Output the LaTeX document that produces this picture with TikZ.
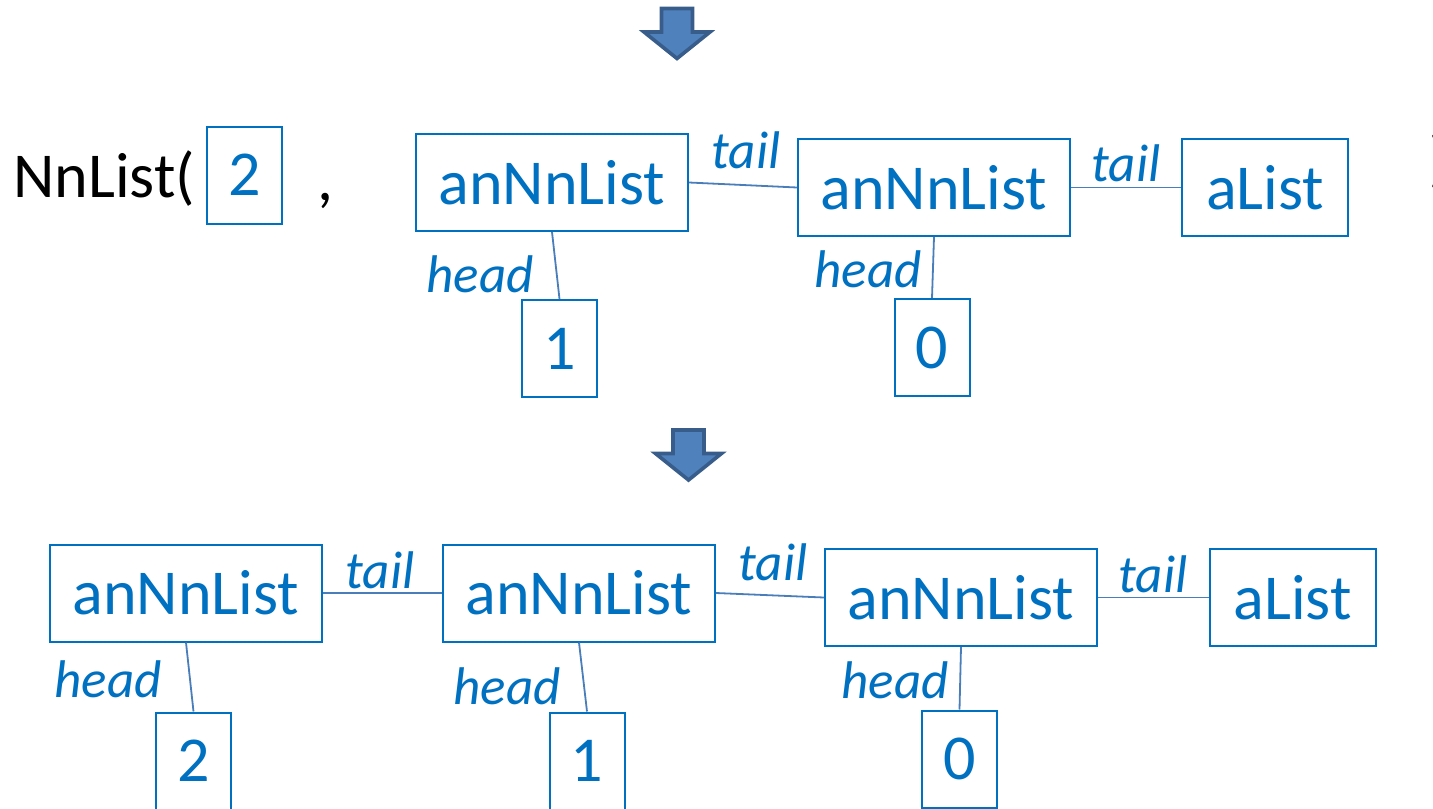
\documentclass[tikz,border=0pt]{standalone}
\usepackage{fontspec}
\setmainfont{Carlito}

\definecolor{listblue}{HTML}{0070C0}
\definecolor{linkblue}{HTML}{4A7EBB}
\definecolor{arrowfill}{HTML}{4F81BD}
\definecolor{arrowedge}{HTML}{385D8A}

\tikzset{
  cell/.style={draw=listblue, line width=1pt, text=listblue, inner sep=0pt,
    font=\fontsize{32}{38}\selectfont, minimum height=48.5pt},
  obj/.style={cell, minimum width=136pt},
  nil/.style={cell, minimum width=83pt},
  num/.style={cell, minimum width=37.5pt},
  field/.style={text=listblue, inner sep=0pt, font=\fontsize{26.5}{31}\selectfont\itshape},
  plain/.style={inner sep=0pt, font=\fontsize{32}{38}\selectfont},
  link/.style={linkblue, line width=0.9pt},
  down/.style={fill=arrowfill, draw=arrowedge, line width=1.8pt, line join=miter}
}

\begin{document}
\begin{tikzpicture}[x=0.5pt, y=-0.5pt]
        \useasboundingbox (0,0) rectangle (1433,808);
        % Arrows
        \foreach \x/\y in {677/58.5, 688.5/480}
            \draw[down] (\x-15.5,\y-50) -- ++(31,0) -- ++(0,23.5) -- ++(17.5,0)
                -- (\x,\y) -- (\x-33,\y-26.5) -- ++(17.5,0) -- cycle;
        % Top row: the call
        \node[plain, anchor=base west] (call) at (13,197) {NnList(};
        \node[num] (x) at (244.5,175) {2};
        \node[plain, anchor=base west] (comma) at (317,200) {,};
        \node[plain, anchor=base west] (close) at (1429,180) {)};
        \node[obj] (p1) at (552,182.5) {anNnList};
        \node[obj] (p2) at (934,187.5) {anNnList};
        \node[nil] (pe) at (1265,187.5) {aList};
        \node[num] (v1) at (559.5,348.5) {1};
        \node[num] (v0) at (932,347.5) {0};
        \draw[link] (p1.east) -- (p2.west);
        \draw[link] (p2.east) -- (pe.west);
        \draw[link] (p1.south) -- (v1.north);
        \draw[link] (p2.south) -- (v0.north);
        \node[field] (pt1) at (746,150) {tail};
        \node[field] (pt2) at (1126,163) {tail};
        \node[field] (ph1) at (480,274) {head};
        \node[field] (ph2) at (868,269) {head};
        % Bottom row: the result
        \node[obj] (q1) at (186,593) {anNnList};
        \node[obj] (q2) at (579,593) {anNnList};
        \node[obj] (q3) at (961,597.5) {anNnList};
        \node[nil] (qe) at (1292.5,597.5) {aList};
        \node[num] (w2) at (193.5,761) {2};
        \node[num] (w1) at (587,761) {1};
        \node[num] (w0) at (959.5,759) {0};
        \draw[link] (q1.east) -- (q2.west);
        \draw[link] (q2.east) -- (q3.west);
        \draw[link] (q3.east) -- (qe.west);
        \draw[link] (q1.south) -- (w2.north);
        \draw[link] (q2.south) -- (w1.north);
        \draw[link] (q3.south) -- (w0.north);
        \node[field] (qt1) at (380,570) {tail};
        \node[field] (qt2) at (773,562) {tail};
        \node[field] (qt3) at (1153,574) {tail};
        \node[field] (qh1) at (108,679) {head};
        \node[field] (qh2) at (507,686) {head};
        \node[field] (qh3) at (895,680) {head};
    \end{tikzpicture}
\end{document}
